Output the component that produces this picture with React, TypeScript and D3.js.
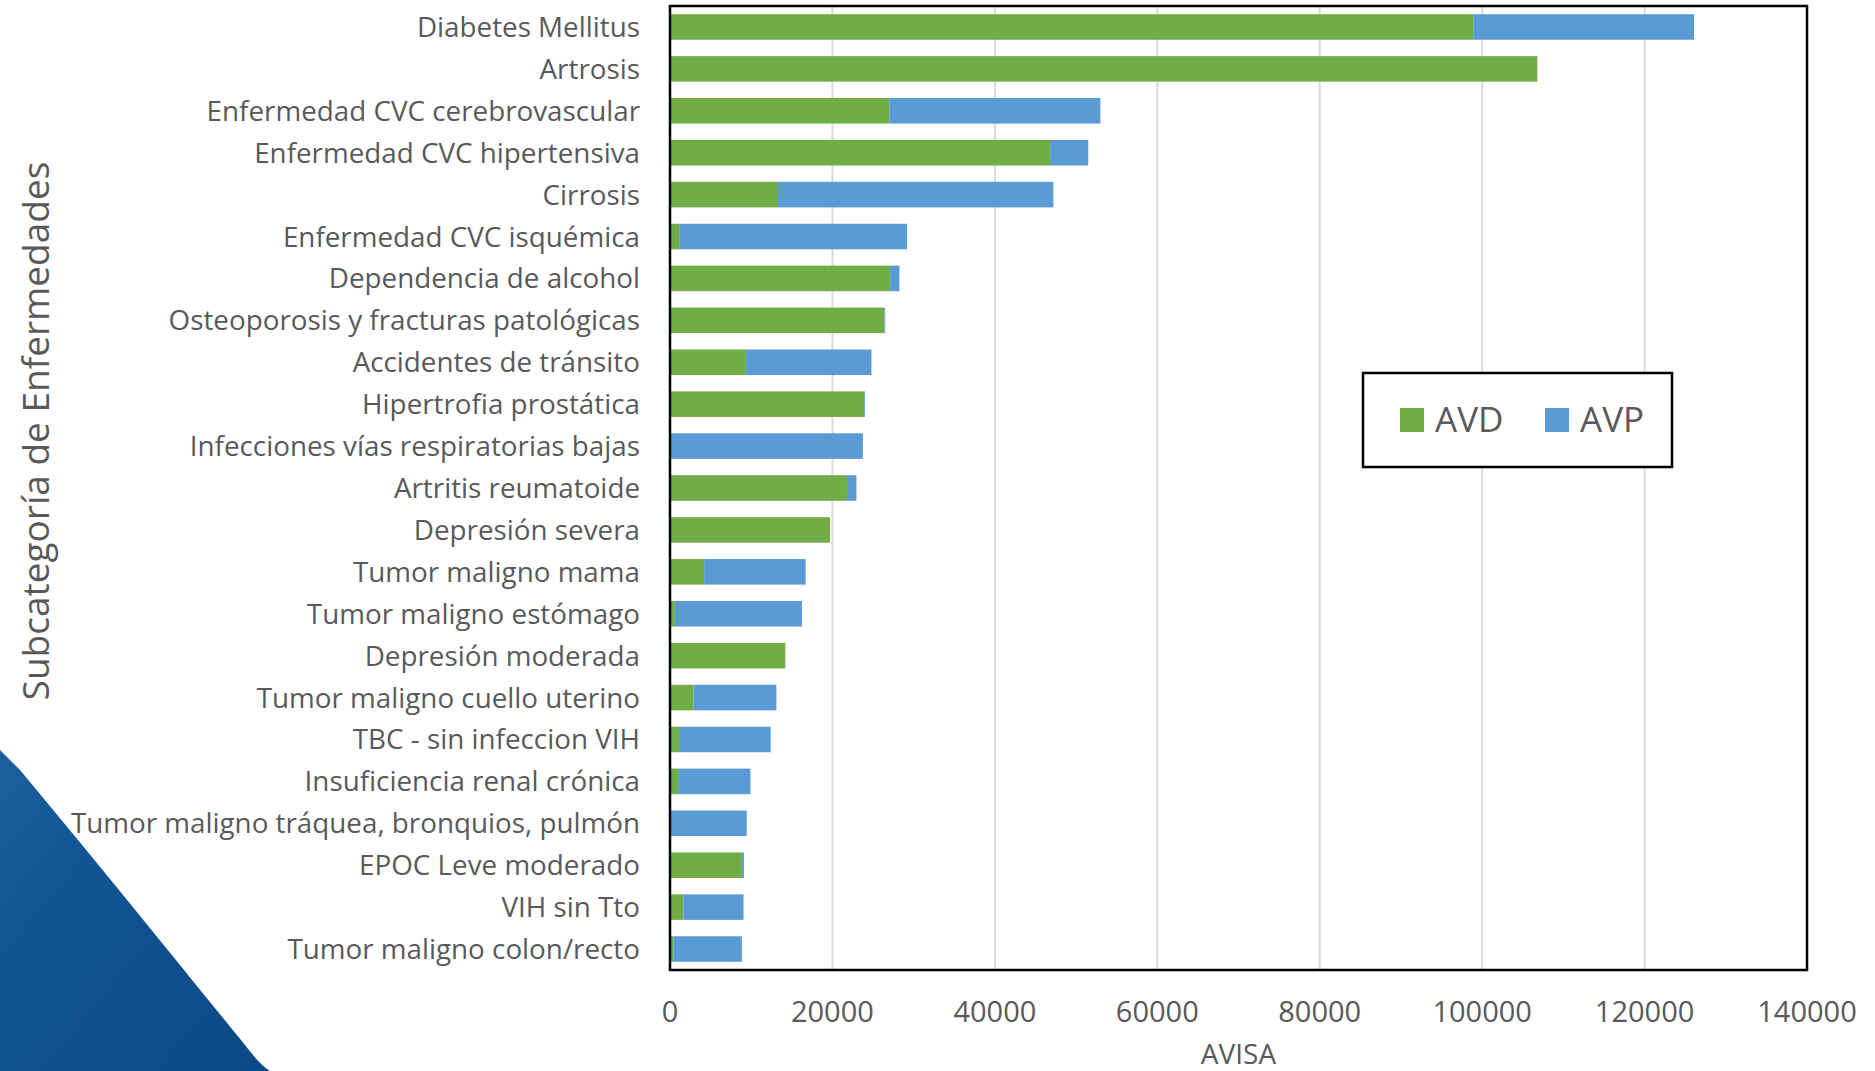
import React from "react";
import * as d3 from "d3";

const categories = [
  "Diabetes Mellitus",
  "Artrosis",
  "Enfermedad CVC cerebrovascular",
  "Enfermedad CVC hipertensiva",
  "Cirrosis",
  "Enfermedad CVC isquémica",
  "Dependencia de alcohol",
  "Osteoporosis y fracturas patológicas",
  "Accidentes de tránsito",
  "Hipertrofia prostática",
  "Infecciones vías respiratorias bajas",
  "Artritis reumatoide",
  "Depresión severa",
  "Tumor maligno mama",
  "Tumor maligno estómago",
  "Depresión moderada",
  "Tumor maligno cuello uterino",
  "TBC - sin infeccion VIH",
  "Insuficiencia renal crónica",
  "Tumor maligno tráquea, bronquios, pulmón",
  "EPOC Leve moderado",
  "VIH sin Tto",
  "Tumor maligno colon/recto",
];

const avd = [
  98900, 106800, 27000, 46800, 13300, 1200, 27100, 26400, 9350, 23900, 250,
  21800, 19700, 4200, 600, 14200, 2900, 1100, 1000, 100, 8850, 1650, 400,
];

const avp = [
  27200, 0, 26000, 4700, 33900, 28000, 1150, 100, 15450, 100, 23500, 1150, 0,
  12500, 15650, 0, 10200, 11300, 8900, 9350, 250, 7400, 8450,
];

const xTicks = [0, 20000, 40000, 60000, 80000, 100000, 120000, 140000];
const seriesNames = ["AVD", "AVP"];
const seriesColors = ["#70AD47", "#5B9BD5"];

const W = 1875;
const H = 1071;
const left = 670;
const right = 1807;
const top = 6;
const bottom = 970;
const font = "'Open Sans', sans-serif";
const textColor = "#595959";

export default function App() {
  const rows = categories.map((c, i) => ({ name: c, AVD: avd[i], AVP: avp[i] }));

  const x = d3.scaleLinear().domain([0, 140000]).range([left, right]);
  const y = d3
    .scaleBand()
    .domain(categories)
    .range([top, bottom])
    .paddingInner(0.39)
    .paddingOuter(0.195);

  const stacked = d3.stack().keys(seriesNames)(rows as any);

  return (
    <svg
      width={W}
      height={H}
      style={{ position: "absolute", left: 0, top: 0, background: "#fff" }}
    >
      <defs>
        <linearGradient id="bg" x1="0" y1="0" x2="1" y2="1">
          <stop offset="0" stopColor="#1b5f9f" />
          <stop offset="0.4" stopColor="#105393" />
          <stop offset="1" stopColor="#0b4a87" />
        </linearGradient>
      </defs>
      {/* slide background corner */}
      <path
        d="M0,750 L20,770 C120,890 200,990 245,1045 C255,1058 262,1066 270,1071 L0,1071 Z"
        fill="url(#bg)"
      />

      {/* gridlines */}
      {xTicks.slice(1, -1).map(t => (
        <line
          key={t}
          x1={x(t)}
          x2={x(t)}
          y1={top}
          y2={bottom}
          stroke="#d9d9d9"
          strokeWidth={2}
        />
      ))}

      {/* bars */}
      {stacked.map((s, si) => (
        <g key={s.key} fill={seriesColors[si]}>
          {s.map((d: any, i) => (
            <rect
              key={i}
              x={x(d[0])}
              y={y(categories[i])}
              width={Math.max(0, x(d[1]) - x(d[0]))}
              height={y.bandwidth()}
            />
          ))}
        </g>
      ))}

      {/* plot border */}
      <rect
        x={left}
        y={top}
        width={right - left}
        height={bottom - top}
        fill="none"
        stroke="#000"
        strokeWidth={2.5}
      />

      {/* category labels */}
      {categories.map(c => (
        <text
          key={c}
          x={640}
          y={(y(c) as number) + y.bandwidth() / 2 + 10}
          textAnchor="end"
          fontFamily={font}
          fontSize={27.8}
          fill={textColor}
        >
          {c}
        </text>
      ))}

      {/* x tick labels */}
      {xTicks.map(t => (
        <text
          key={t}
          x={x(t)}
          y={1022}
          textAnchor="middle"
          fontFamily={font}
          fontSize={29}
          fill={textColor}
        >
          {t}
        </text>
      ))}

      <text
        x={(left + right) / 2}
        y={1064}
        textAnchor="middle"
        fontFamily={font}
        fontSize={28}
        fill={textColor}
      >
        AVISA
      </text>

      <text
        transform={`translate(49, 431) rotate(-90)`}
        textAnchor="middle"
        fontFamily={font}
        fontSize={37}
        fill={textColor}
      >
        Subcategoría de Enfermedades
      </text>

      {/* legend */}
      <g>
        <rect
          x={1363}
          y={373}
          width={309}
          height={94}
          fill="#fff"
          stroke="#000"
          strokeWidth={2.5}
        />
        {seriesNames.map((n, i) => (
          <g key={n} transform={`translate(${1400 + i * 145}, 408)`}>
            <rect width={24} height={24} fill={seriesColors[i]} />
            <text
              x={35}
              y={24}
              fontFamily={font}
              fontSize={35}
              fill={textColor}
            >
              {n}
            </text>
          </g>
        ))}
      </g>
    </svg>
  );
}
